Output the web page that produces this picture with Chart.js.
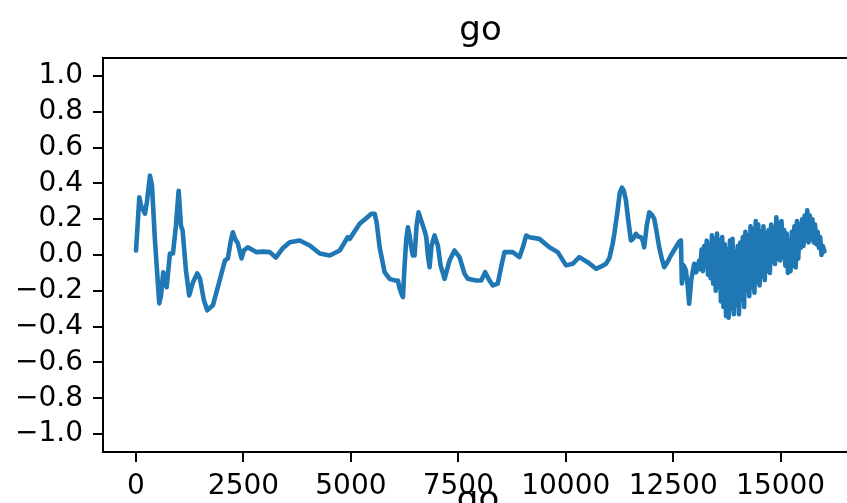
<!DOCTYPE html>
<html>
<head>
<meta charset="utf-8">
<script src="https://cdn.jsdelivr.net/npm/chart.js@4/dist/chart.umd.min.js"></script>
<style>
  html, body { margin: 0; padding: 0; background: #fff; }
  #frame { position: relative; width: 847px; height: 503px; overflow: hidden; background: #fff; }
  #plot { position: absolute; left: 0; top: 0; }
  #nextTitle {
    position: absolute; left: 378px; top: 481px; width: 200px;
    text-align: center; font: 34px/1 "DejaVu Sans", sans-serif; color: #000;
  }
</style>
</head>
<body>
<div id="frame">
  <canvas id="plot" width="860" height="503"></canvas>
  <div id="nextTitle">go</div>
</div>
<script>
// Signal "go": sample index and amplitude
const sampleIndex = [
  0, 77, 116, 209, 256, 325, 372, 441, 541, 581, 634, 713, 790, 860, 929, 992,
  1046, 1085, 1162, 1238, 1324, 1424, 1487, 1580, 1657, 1789, 1928, 2068, 2138, 2207, 2254, 2300,
  2370, 2456, 2509, 2602, 2804, 2951, 3113, 3253, 3408, 3578, 3810, 4043, 4275, 4507, 4740, 4926,
  4972, 5204, 5344, 5476, 5553, 5600, 5669, 5785, 5901, 6018, 6094, 6134, 6173, 6211, 6250, 6289,
  6327, 6366, 6405, 6443, 6482, 6529, 6575, 6622, 6675, 6715, 6754, 6792, 6831, 6877, 6947, 7024,
  7087, 7180, 7295, 7412, 7528, 7644, 7721, 7916, 8032, 8125, 8225, 8302, 8418, 8504, 8573, 8766,
  8922, 9015, 9078, 9154, 9387, 9619, 9812, 10007, 10160, 10316, 10509, 10704, 10827, 10936, 11013, 11091,
  11130, 11206, 11257, 11308, 11350, 11401, 11455, 11517, 11571, 11633, 11686, 11749, 11791, 11826, 11884, 11942,
  12000, 12059, 12117, 12174, 12233, 12291, 12360, 12446, 12562, 12640, 12679, 12702, 12744, 12795, 12837, 12871,
  12918, 12988, 13034, 13104,
  13130, 13160, 13190, 13220, 13250, 13280, 13310, 13340, 13370, 13400, 13430, 13460, 13490, 13520, 13550, 13580,
  13610, 13640, 13670, 13700, 13730, 13760, 13790, 13820, 13850, 13880, 13910, 13940, 13970, 14000, 14030, 14060,
  14090, 14120, 14150, 14180, 14210, 14240, 14270, 14300, 14330, 14360, 14390, 14420, 14450, 14480, 14510, 14540,
  14570, 14600, 14630, 14660, 14690, 14720, 14750, 14780, 14810, 14840, 14870, 14900, 14930, 14960, 14990, 15020,
  15050, 15080, 15110, 15140, 15170, 15200, 15230, 15260, 15290, 15320, 15350, 15380, 15410, 15440, 15470, 15500,
  15530, 15560, 15590, 15620, 15650, 15680, 15710, 15740, 15770, 15800, 15830, 15860, 15890, 15920, 15950, 15980,
  16020
];
const goValue = [
  0.025, 0.322, 0.276, 0.231, 0.300, 0.443, 0.387, 0.081, -0.270, -0.226, -0.096, -0.180, 0.008, 0.008, 0.164, 0.359,
  0.164, 0.136, -0.086, -0.226, -0.153, -0.103, -0.131, -0.253, -0.309, -0.281, -0.159, -0.031, -0.019, 0.081, 0.127, 0.092,
  0.064, -0.019, 0.025, 0.043, 0.016, 0.019, 0.016, -0.014, 0.036, 0.071, 0.081, 0.053, 0.008, -0.003, 0.025, 0.099,
  0.090, 0.174, 0.203, 0.230, 0.230, 0.181, 0.043, -0.096, -0.133, -0.142, -0.142, -0.187, -0.214, -0.235, -0.058, 0.090,
  0.155, 0.109, 0.043, -0.003, -0.003, 0.164, 0.238, 0.203, 0.164, 0.136, 0.099, -0.003, -0.068, 0.053, 0.109, 0.053,
  -0.058, -0.133, -0.031, 0.025, -0.012, -0.105, -0.133, -0.142, -0.142, -0.096, -0.142, -0.170, -0.160, -0.058, 0.016, 0.016,
  -0.012, 0.053, 0.109, 0.099, 0.090, 0.043, 0.016, -0.058, -0.049, -0.012, -0.040, -0.077, -0.064, -0.049, -0.019, 0.062,
  0.118, 0.248, 0.348, 0.376, 0.359, 0.304, 0.192, 0.081, 0.092, 0.118, 0.103, 0.099, 0.081, 0.043, 0.164, 0.238,
  0.226, 0.202, 0.125, 0.043, -0.019, -0.068, -0.042, -0.003, 0.043, 0.075, 0.081, -0.159, -0.058, -0.086, -0.170, -0.272,
  -0.142, -0.049, -0.097, -0.031,
  -0.08, 0.03, -0.09, 0.05, -0.06, 0.08, -0.11, 0.06, -0.13, 0.11, -0.16, 0.09, -0.20, 0.12, -0.18, 0.08,
  -0.26, 0.10, -0.29, 0.06, -0.34, 0.03, -0.35, 0.08, -0.30, 0.09, -0.33, 0.02, -0.28, 0.05, -0.33, 0.07,
  -0.25, 0.10, -0.29, 0.13, -0.20, 0.11, -0.23, 0.16, -0.18, 0.14, -0.21, 0.19, -0.15, 0.17, -0.17, 0.13,
  -0.12, 0.16, -0.14, 0.12, -0.09, 0.14, -0.10, 0.17, -0.04, 0.15, -0.05, 0.21, -0.02, 0.18, -0.03, 0.19,
  -0.01, 0.14, -0.06, 0.12, -0.10, 0.08, -0.09, 0.13, -0.06, 0.16, -0.07, 0.19, -0.02, 0.17, 0.04, 0.20,
  0.05, 0.22, 0.08, 0.25, 0.07, 0.22, 0.09, 0.20, 0.07, 0.17, 0.06, 0.13, 0.04, 0.10, 0.00, 0.05,
  0.02
];

const xTicks = [0, 2500, 5000, 7500, 10000, 12500, 15000];
const yTicks = [-1.0, -0.8, -0.6, -0.4, -0.2, 0.0, 0.2, 0.4, 0.6, 0.8, 1.0];

const FONT = "'DejaVu Sans', sans-serif";
const points = sampleIndex.map((x, i) => ({ x: x, y: goValue[i] }));

// Closes the axes box on the top and right sides
const boxFrame = {
  id: 'boxFrame',
  afterDraw(chart) {
    const { ctx, chartArea: a } = chart;
    ctx.save();
    ctx.strokeStyle = '#000';
    ctx.lineWidth = 2;
    ctx.beginPath();
    ctx.moveTo(a.left - 1, a.top);
    ctx.lineTo(a.right, a.top);
    ctx.lineTo(a.right, a.bottom);
    ctx.stroke();
    ctx.restore();
  }
};

new Chart(document.getElementById('plot'), {
  type: 'line',
  data: {
    datasets: [{
      data: points,
      borderColor: '#1f77b4',
      borderWidth: 4.6,
      pointRadius: 0,
      tension: 0,
      fill: false,
      borderJoinStyle: 'round',
      borderCapStyle: 'round'
    }]
  },
  options: {
    responsive: false,
    animation: false,
    devicePixelRatio: 1,
    layout: { padding: { left: 0, right: 2, top: 0, bottom: 0 } },
    plugins: {
      legend: { display: false },
      tooltip: { enabled: false },
      title: {
        display: true,
        fullSize: false,
        text: 'go',
        color: '#000',
        font: { family: FONT, size: 34, weight: 'normal', lineHeight: 1.2 },
        padding: { top: 11, bottom: 6.2 }
      }
    },
    scales: {
      x: {
        type: 'linear',
        min: -768,
        max: 16800,
        afterFit(scale) { scale.height = 51; },
        afterBuildTicks(scale) { scale.ticks = xTicks.map(v => ({ value: v })); },
        grid: { drawOnChartArea: false, drawTicks: true, tickLength: 10, color: '#000', lineWidth: 2 },
        border: { display: true, color: '#000', width: 2 },
        ticks: {
          color: '#000', padding: 8, maxRotation: 0, autoSkip: false,
          font: { family: FONT, size: 28 },
          callback: v => String(v)
        }
      },
      y: {
        type: 'linear',
        min: -1.1,
        max: 1.1,
        afterFit(scale) { scale.width = 103; },
        afterBuildTicks(scale) { scale.ticks = yTicks.map(v => ({ value: v })); },
        grid: { drawOnChartArea: false, drawTicks: true, tickLength: 10, color: '#000', lineWidth: 2 },
        border: { display: true, color: '#000', width: 2 },
        ticks: {
          color: '#000', padding: 10, autoSkip: false,
          font: { family: FONT, size: 28 },
          callback: v => v.toFixed(1).replace('-', '\u2212')
        }
      }
    }
  },
  plugins: [boxFrame]
});
</script>
</body>
</html>
